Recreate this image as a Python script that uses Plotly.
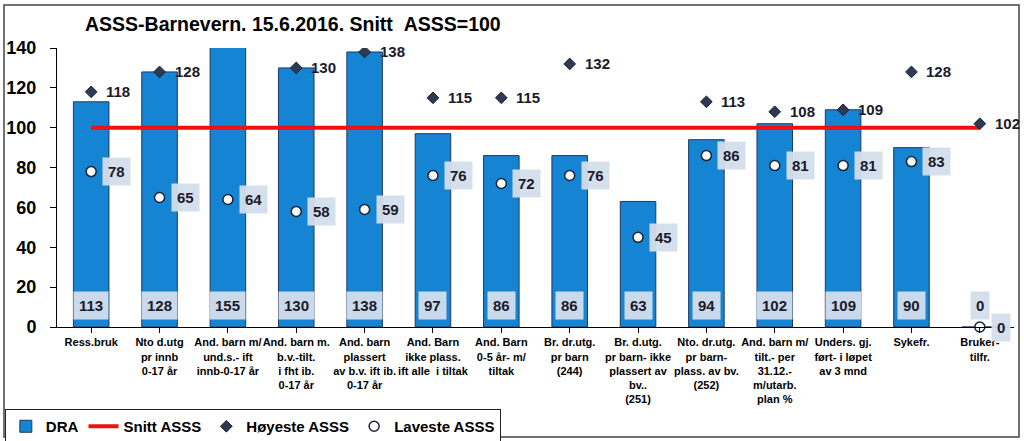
import plotly.graph_objects as go

categories = [
    "Ress.bruk",
    "Nto d.utg<br>pr innb<br>0-17 år",
    "And. barn m/<br>und.s.- ift<br>innb-0-17 år",
    "And. barn m.<br>b.v.-tilt.<br>i fht ib.<br>0-17 år",
    "And. barn<br>plassert<br>av b.v. ift ib.<br>0-17 år",
    "And. Barn<br>ikke plass.<br>ift alle  i tiltak",
    "And. Barn<br>0-5 år- m/<br>tiltak",
    "Br. dr.utg.<br>pr barn<br>(244)",
    "Br. d.utg.<br>pr barn- ikke<br>plassert av<br>bv..<br>(251)",
    "Nto. dr.utg.<br>pr barn-<br>plass. av bv.<br>(252)",
    "And. barn m/<br>tilt.- per<br>31.12.-<br>m/utarb.<br>plan %",
    "Unders. gj.<br>ført- i løpet<br>av 3 mnd",
    "Sykefr.",
    "Bruker-<br>tilfr.",
]
dra = [113, 128, 155, 130, 138, 97, 86, 86, 63, 94, 102, 109, 90, 0]
snitt = [100] * len(categories)
hoyeste = [118, 128, None, 130, 138, 115, 115, 132, None, 113, 108, 109, 128, 102]
laveste = [78, 65, 64, 58, 59, 76, 72, 76, 45, 86, 81, 81, 83, 0]
y_ticks = [0, 20, 40, 60, 80, 100, 120, 140]

FONT = "Liberation Sans, Arial, sans-serif"
x_idx = list(range(len(categories)))

fig = go.Figure()
fig.add_trace(go.Bar(
    x=x_idx, y=dra, name="DRA",
    marker=dict(color="#1585D3", line=dict(color="#1F3864", width=1)),
    width=0.52,
))
fig.add_trace(go.Scatter(
    x=x_idx, y=snitt, name="Snitt ASSS", mode="lines",
    line=dict(color="#F01010", width=4),
))
fig.add_trace(go.Scatter(
    x=x_idx, y=hoyeste, name="Høyeste ASSS", mode="markers",
    marker=dict(symbol="diamond", size=9, color="#2E3A52",
                line=dict(color="#1A2236", width=1)),
))
fig.add_trace(go.Scatter(
    x=x_idx, y=laveste, name="Laveste ASSS", mode="markers",
    marker=dict(symbol="circle", size=10, color="white",
                line=dict(color="#1A2236", width=1.5)),
    cliponaxis=False,
))

label_font = dict(family=FONT, size=15, color="#1B1B2B", weight="bold")
annotations = []
for i, v in enumerate(dra):
    annotations.append(dict(
        x=i, y=0, xref="x", yref="y", text=str(v), showarrow=False,
        yanchor="bottom", yshift=7, bgcolor="rgba(212,222,236,0.95)",
        borderpad=5, font=label_font,
    ))
for i, v in enumerate(laveste):
    annotations.append(dict(
        x=i, y=v, xref="x", yref="y", text=str(v), showarrow=False,
        xanchor="left", xshift=11, yanchor="middle",
        bgcolor="rgba(212,222,236,0.95)", borderpad=5, font=label_font,
    ))
for i, v in enumerate(hoyeste):
    if v is None:
        continue
    annotations.append(dict(
        x=i, y=v, xref="x", yref="y", text=str(v), showarrow=False,
        xanchor="left", xshift=13, yanchor="middle",
        font=dict(family=FONT, size=15, color="#1B1B2B", weight="bold"),
    ))

fig.update_layout(
    width=1024, height=441,
    margin=dict(l=57, r=10, t=48, b=114, autoexpand=False),
    paper_bgcolor="white", plot_bgcolor="white",
    title=dict(
        text="ASSS-Barnevern. 15.6.2016. Snitt \u00a0ASSS=100",
        x=85 / 1024, xanchor="left", xref="container",
        y=1 - 24 / 441, yanchor="middle", pad=dict(l=0, r=0, t=0, b=0),
        font=dict(family=FONT, size=19.5, color="black", weight="bold"),
    ),
    font=dict(family=FONT, color="black"),
    bargap=0.48,
    showlegend=True,
    legend=dict(
        orientation="h", x=-0.0545, y=-0.294, xanchor="left", yanchor="top",
        bordercolor="#222222", borderwidth=1, bgcolor="white",
        font=dict(family=FONT, size=15, color="black", weight="bold"),
        tracegroupgap=0,
    ),
    annotations=annotations,
    shapes=[dict(
        type="rect", xref="paper", yref="paper",
        x0=-53 / 957, x1=962 / 957, y0=-110 / 279, y1=322 / 279,
        line=dict(color="#444444", width=1.5), fillcolor="rgba(0,0,0,0)",
        layer="above",
    )],
)
fig.update_xaxes(
    range=[-0.5, len(categories) - 0.5],
    tickmode="array", tickvals=x_idx, ticktext=categories,
    tickson="boundaries", ticks="outside", ticklen=5, tickcolor="black",
    showline=True, linecolor="black", linewidth=1,
    showgrid=False, automargin=False,
    tickfont=dict(family=FONT, size=11, color="black", weight="bold"),
    tickangle=0,
)
fig.update_yaxes(
    range=[0, 140], tickmode="array", tickvals=y_ticks,
    ticks="outside", ticklen=6, tickcolor="black",
    showline=True, linecolor="black", linewidth=1,
    showgrid=False, zeroline=False, automargin=False,
    tickfont=dict(family=FONT, size=18, color="black", weight="bold"),
    ticklabelstandoff=10,
)

fig.write_html(
    "out.html",
    config={"displayModeBar": False},
    post_script="document.body.style.margin='0px';document.body.style.overflow='hidden';",
)
